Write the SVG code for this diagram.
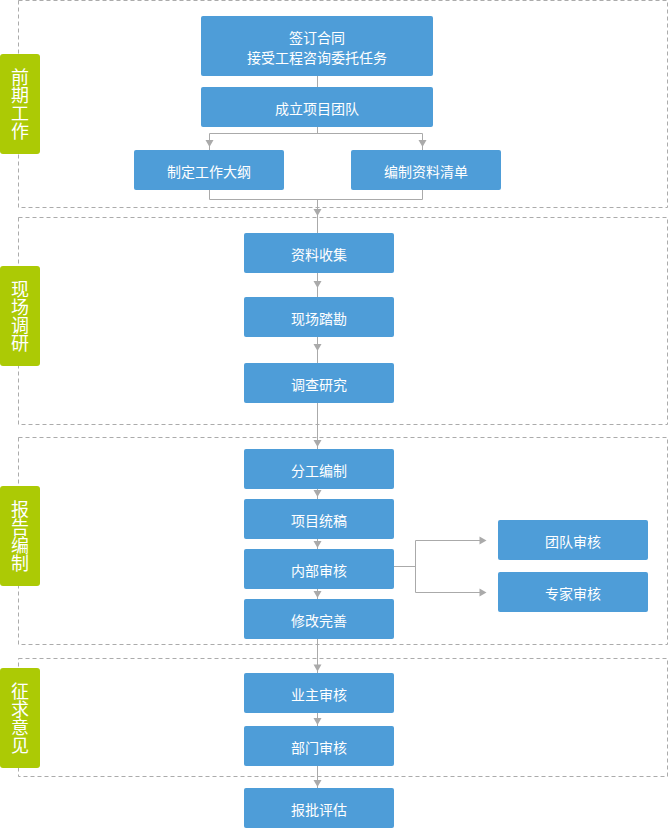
<svg xmlns="http://www.w3.org/2000/svg" xmlns:xlink="http://www.w3.org/1999/xlink" width="668" height="828" viewBox="0 0 668 828">
<style>
.sec{fill:none;stroke:#ababab;stroke-width:1;stroke-dasharray:4 3}
.tag{fill:#acca05}
.tagt{fill:#ffffff;font-family:"Noto Sans CJK SC","Microsoft YaHei",sans-serif;font-size:18px;text-anchor:middle;writing-mode:vertical-rl}
.box{fill:#4e9dd8}
.bt{fill:#ffffff;font-family:"Noto Sans CJK SC","Microsoft YaHei",sans-serif;font-size:14px;text-anchor:middle;dominant-baseline:central}
.ln{fill:none;stroke:#aaaaaa;stroke-width:1}
.ar{fill:#aaaaaa}
</style>
<defs>
<polygon id="ad" points="-4,0 4,0 0,7"/>
<polygon id="arr" points="0,-4 0,4 7,0"/>
</defs>
<rect width="668" height="828" fill="#ffffff"/>
<g id="sections">
<rect class="sec" x="18.5" y="0.5" width="649" height="207"/>
<rect class="sec" x="18.5" y="217.5" width="649" height="207"/>
<rect class="sec" x="18.5" y="437.5" width="649" height="207"/>
<rect class="sec" x="18.5" y="658.5" width="649" height="118"/>
</g>
<g id="tag1"><rect class="tag" x="0" y="54" width="40" height="100" rx="3"/><text class="tagt" x="20" y="104">前期工作</text></g>
<g id="tag2"><rect class="tag" x="0" y="266" width="40" height="100" rx="3"/><text class="tagt" x="20" y="316">现场调研</text></g>
<g id="tag3"><rect class="tag" x="0" y="486" width="40" height="100" rx="3"/><text class="tagt" x="20" y="536">报告编制</text></g>
<g id="tag4"><rect class="tag" x="0" y="668" width="40" height="100" rx="3"/><text class="tagt" x="20" y="718">征求意见</text></g>
<g id="connectors">
<path class="ln" d="M317.5,75.7V87"/>
<path class="ln" d="M317.5,127V133.5M209.5,150V133.5H422.5V150"/>
<path class="ln" d="M209.5,190V199.5H422.5V190M317.5,199.5V233"/>
<path class="ln" d="M317.5,272.7V297M317.5,336.7V363M317.5,402.7V449"/>
<path class="ln" d="M317.5,488.7V499M317.5,538.7V549M317.5,588.7V599M317.5,638.7V673M317.5,712.7V726M317.5,765.7V788"/>
<path class="ln" d="M394,566.5H415.5M415.5,540.5V592.5M415.5,540.5H482M415.5,592.5H482"/>
<use class="ar" href="#ad" x="209.5" y="140"/>
<use class="ar" href="#ad" x="422.5" y="140"/>
<use class="ar" href="#ad" x="317.5" y="209"/>
<use class="ar" href="#ad" x="317.5" y="281"/>
<use class="ar" href="#ad" x="317.5" y="344"/>
<use class="ar" href="#ad" x="317.5" y="440"/>
<use class="ar" href="#ad" x="317.5" y="490"/>
<use class="ar" href="#ad" x="317.5" y="541"/>
<use class="ar" href="#ad" x="317.5" y="591"/>
<use class="ar" href="#ad" x="317.5" y="664.5"/>
<use class="ar" href="#ad" x="317.5" y="718"/>
<use class="ar" href="#ad" x="317.5" y="780"/>
<use class="ar" href="#arr" x="479.5" y="540.5"/>
<use class="ar" href="#arr" x="479.5" y="592.5"/>
</g>
<g id="n1"><rect class="box" x="201" y="16" width="232" height="60" rx="2"/><text class="bt" x="317" y="36.5">签订合同</text><text class="bt" x="317" y="56.5">接受工程咨询委托任务</text></g>
<g id="n2"><rect class="box" x="201" y="87" width="232" height="40" rx="2"/><text class="bt" x="317" y="108">成立项目团队</text></g>
<g id="n3"><rect class="box" x="134" y="150" width="150" height="40" rx="2"/><text class="bt" x="209" y="171">制定工作大纲</text></g>
<g id="n4"><rect class="box" x="351" y="150" width="150" height="40" rx="2"/><text class="bt" x="426" y="171">编制资料清单</text></g>
<g id="n5"><rect class="box" x="244" y="233" width="150" height="40" rx="2"/><text class="bt" x="319" y="254">资料收集</text></g>
<g id="n6"><rect class="box" x="244" y="297" width="150" height="40" rx="2"/><text class="bt" x="319" y="318">现场踏勘</text></g>
<g id="n7"><rect class="box" x="244" y="363" width="150" height="40" rx="2"/><text class="bt" x="319" y="384">调查研究</text></g>
<g id="n8"><rect class="box" x="244" y="449" width="150" height="40" rx="2"/><text class="bt" x="319" y="470">分工编制</text></g>
<g id="n9"><rect class="box" x="244" y="499" width="150" height="40" rx="2"/><text class="bt" x="319" y="520">项目统稿</text></g>
<g id="n10"><rect class="box" x="244" y="549" width="150" height="40" rx="2"/><text class="bt" x="319" y="570">内部审核</text></g>
<g id="n11"><rect class="box" x="244" y="599" width="150" height="40" rx="2"/><text class="bt" x="319" y="620">修改完善</text></g>
<g id="n12"><rect class="box" x="498" y="520" width="150" height="40" rx="2"/><text class="bt" x="573" y="541">团队审核</text></g>
<g id="n13"><rect class="box" x="498" y="572" width="150" height="40" rx="2"/><text class="bt" x="573" y="593">专家审核</text></g>
<g id="n14"><rect class="box" x="244" y="673" width="150" height="40" rx="2"/><text class="bt" x="319" y="694">业主审核</text></g>
<g id="n15"><rect class="box" x="244" y="726" width="150" height="40" rx="2"/><text class="bt" x="319" y="747">部门审核</text></g>
<g id="n16"><rect class="box" x="244" y="788" width="150" height="40" rx="2"/><text class="bt" x="319" y="809">报批评估</text></g>
</svg>
